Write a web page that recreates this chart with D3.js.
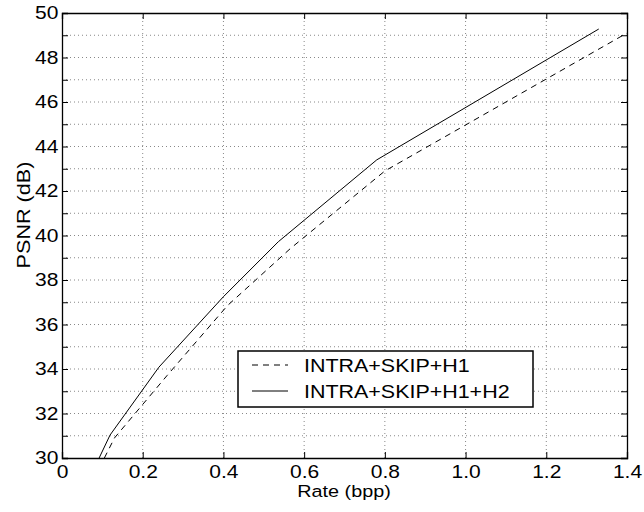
<!DOCTYPE html>
<html>
<head>
<meta charset="utf-8">
<script src="https://cdn.jsdelivr.net/npm/d3@7"></script>
<style>
  body { margin: 0; background: #fff; }
  svg text { font-family: "Liberation Sans", Arial, Helvetica, sans-serif; fill: #000; }
</style>
</head>
<body>
<div id="chart"></div>
<script>
// Data
var seriesNames = ["INTRA+SKIP+H1", "INTRA+SKIP+H1+H2"];
var rateH1 = [0.105, 0.13, 0.26, 0.41, 0.565, 0.80, 1.40];
var psnrH1 = [30.0, 30.9, 33.7, 36.85, 39.4, 42.9, 49.1];
var rateH1H2 = [0.092, 0.119, 0.24, 0.40, 0.536, 0.78, 1.33];
var psnrH1H2 = [30.0, 31.03, 34.08, 37.25, 39.72, 43.4, 49.28];
var xTicks = [0, 0.2, 0.4, 0.6, 0.8, 1.0, 1.2, 1.4];
var yTicks = [30, 31, 32, 33, 34, 35, 36, 37, 38, 39, 40, 41, 42, 43, 44, 45, 46, 47, 48, 49, 50];

var width = 644, height = 512;
var pLeft = 62, pRight = 627, pTop = 13, pBottom = 458;
var stretch = 1.2; // the original figure text is a bit wider than Arial

var svg = d3.select("#chart").append("svg")
    .attr("width", width)
    .attr("height", height);

var x = d3.scaleLinear().domain([0, 1.4]).range([pLeft, pRight]);
var y = d3.scaleLinear().domain([30, 50]).range([pBottom, pTop]);

// dotted grid
var grid = svg.append("g").attr("class", "grid");
grid.selectAll(".gx")
    .data(xTicks.slice(1, -1))
    .enter().append("line")
    .attr("x1", function(d) { return x(d); })
    .attr("x2", function(d) { return x(d); })
    .attr("y1", pTop)
    .attr("y2", pBottom)
    .attr("stroke", "#888")
    .attr("stroke-dasharray", "1,3");
grid.selectAll(".gy")
    .data(yTicks.slice(1, -1))
    .enter().append("line")
    .attr("y1", function(d) { return y(d); })
    .attr("y2", function(d) { return y(d); })
    .attr("x1", pLeft)
    .attr("x2", pRight)
    .attr("stroke", "#888")
    .attr("stroke-dasharray", "1,3");

// clip for the curves
svg.append("clipPath").attr("id", "plotclip")
    .append("rect")
    .attr("x", pLeft).attr("y", pTop)
    .attr("width", pRight - pLeft).attr("height", pBottom - pTop);

var line = d3.line()
    .x(function(d) { return x(d[0]); })
    .y(function(d) { return y(d[1]); });

var dataH1 = rateH1.map(function(r, i) { return [r, psnrH1[i]]; });
var dataH1H2 = rateH1H2.map(function(r, i) { return [r, psnrH1H2[i]]; });

svg.append("path")
    .datum(dataH1)
    .attr("clip-path", "url(#plotclip)")
    .attr("d", line)
    .attr("fill", "none")
    .attr("stroke", "#000")
    .attr("stroke-width", 1)
    .attr("stroke-dasharray", "6,5");

svg.append("path")
    .datum(dataH1H2)
    .attr("clip-path", "url(#plotclip)")
    .attr("d", line)
    .attr("fill", "none")
    .attr("stroke", "#000")
    .attr("stroke-width", 1);

// axes, ticks pointing inward
var fmtX = function(d) { return d === 0 ? "0" : d3.format(".1f")(d); };
var fmtY = function(d) { return d % 2 === 0 ? d : ""; };

svg.append("g")
    .attr("transform", "translate(0," + pBottom + ")")
    .call(d3.axisBottom(x).tickValues(xTicks).tickFormat(fmtX).tickSize(-6).tickPadding(8));
svg.append("g")
    .attr("transform", "translate(0," + pTop + ")")
    .call(d3.axisTop(x).tickValues(xTicks).tickFormat("").tickSize(-6));
svg.append("g")
    .attr("transform", "translate(" + pLeft + ",0)")
    .call(d3.axisLeft(y).tickValues(yTicks).tickFormat(fmtY).tickSize(-6).tickPadding(3));
svg.append("g")
    .attr("transform", "translate(" + pRight + ",0)")
    .call(d3.axisRight(y).tickValues(yTicks).tickFormat("").tickSize(-6));

svg.selectAll(".domain").attr("stroke", "#000").attr("stroke-width", 1.3);
svg.selectAll(".tick line").attr("stroke", "#000");
svg.selectAll(".tick text")
    .style("font-size", "17.5px")
    .attr("fill", "#000")
    .attr("transform", "scale(" + stretch + ",1)");

// axis labels
svg.append("text")
    .attr("transform", "translate(344,497) scale(" + stretch + ",1)")
    .attr("text-anchor", "middle")
    .style("font-size", "16.5px")
    .text("Rate (bpp)");

svg.append("text")
    .attr("transform", "translate(30,215) rotate(-90) scale(" + stretch + ",1)")
    .attr("text-anchor", "middle")
    .style("font-size", "18px")
    .text("PSNR (dB)");

// legend
var legend = svg.append("g");
legend.append("rect")
    .attr("x", 238).attr("y", 351)
    .attr("width", 295).attr("height", 56)
    .attr("fill", "#fff")
    .attr("stroke", "#000")
    .attr("stroke-width", 1.5);

var dashes = ["6,5", null];
seriesNames.forEach(function(name, i) {
    var ly = 365 + i * 26;
    legend.append("line")
        .attr("x1", 252).attr("x2", 288)
        .attr("y1", ly).attr("y2", ly)
        .attr("stroke", "#000")
        .attr("stroke-dasharray", dashes[i]);
    legend.append("text")
        .attr("transform", "translate(304," + (ly + 6.5) + ") scale(1.16,1)")
        .style("font-size", "18.5px")
        .text(name);
});
</script>
</body>
</html>
